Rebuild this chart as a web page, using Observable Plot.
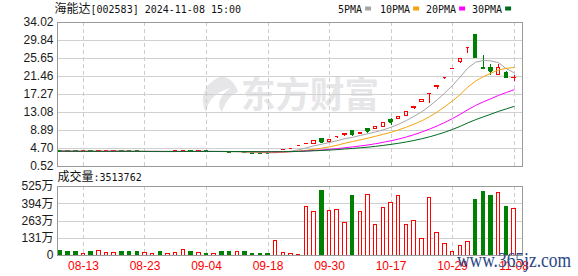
<!DOCTYPE html>
<html>
<head>
<meta charset="utf-8">
<script src="https://cdn.jsdelivr.net/npm/d3@7"></script>
<script src="https://cdn.jsdelivr.net/npm/@observablehq/plot@0.6"></script>
<style>
html,body{margin:0;padding:0;background:#fff;}
#wrap{position:relative;width:578px;height:276px;overflow:hidden;background:#fff;}
#wrap > svg{position:absolute;left:0;top:0;}
</style>
</head>
<body>
<div id="wrap"></div>
<script>
// ---------- data ----------
const title = "海能达[002583] 2024-11-08 15:00";
const volumeTitle = "成交量:3513762";
const dates = [
  "08-08","08-09","08-12","08-13","08-14","08-15","08-16","08-19","08-20","08-21","08-22","08-23","08-26","08-27","08-28","08-29","08-30",
  "09-02","09-03","09-04","09-05","09-06","09-09","09-10","09-11","09-12","09-13","09-18","09-19","09-20","09-23","09-24","09-25","09-26","09-27","09-30",
  "10-08","10-09","10-10","10-11","10-14","10-15","10-16","10-17","10-18","10-21","10-22","10-23","10-24","10-25","10-28","10-29","10-30","10-31",
  "11-01","11-04","11-05","11-06","11-07","11-08"
];
const open = [
  4.12,4.08,4.05,4.02,4.04,4.00,4.05,4.07,4.08,4.04,4.01,3.97,3.99,4.00,3.97,3.98,4.02,
  4.08,4.03,4.04,3.98,3.99,3.94,3.88,3.88,3.69,3.66,3.64,3.64,4.38,4.82,5.30,5.83,5.75,6.98,6.20,
  7.47,7.78,8.80,8.00,9.24,9.30,9.80,11.40,11.60,12.30,14.15,15.55,17.47,19.00,21.14,23.25,24.80,28.14,
  31.00,23.35,23.40,21.80,22.30,21.00
];
const high = [
  4.14,4.10,4.07,4.06,4.05,4.08,4.09,4.10,4.09,4.05,4.02,4.01,4.02,4.01,4.00,4.04,4.20,
  4.12,4.07,4.05,4.01,4.00,3.95,3.93,3.89,3.71,3.68,3.65,3.98,4.38,4.82,5.30,5.83,6.41,7.05,6.79,
  7.47,8.17,8.97,8.45,9.24,9.63,10.59,11.65,11.94,13.13,14.44,15.88,17.47,19.22,21.14,23.25,25.58,28.14,
  31.30,26.30,24.20,24.25,22.60,21.70
];
const low = [
  4.05,4.03,4.00,4.00,3.98,3.99,4.03,4.04,4.02,3.99,3.95,3.96,3.97,3.95,3.95,3.97,4.01,
  4.01,4.01,3.97,3.96,3.93,3.87,3.86,3.66,3.64,3.62,3.60,3.62,4.38,4.82,5.30,5.83,5.64,6.10,6.15,
  7.10,7.55,7.55,7.95,8.15,9.25,9.75,10.00,11.40,12.20,13.80,15.45,15.10,18.40,20.70,23.25,24.40,26.90,
  25.60,23.15,21.70,21.75,21.10,20.30
];
const close = [
  4.08,4.05,4.02,4.04,4.00,4.06,4.07,4.08,4.04,4.01,3.97,3.99,4.00,3.97,3.98,4.02,4.08,
  4.03,4.05,3.98,3.99,3.94,3.88,3.91,3.69,3.66,3.64,3.62,3.98,4.38,4.82,5.30,5.83,6.41,6.17,6.79,
  7.47,8.15,7.92,8.40,8.75,9.63,10.59,10.85,11.94,13.13,14.44,15.88,17.47,19.22,21.14,23.25,25.58,28.14,
  25.80,23.22,22.70,23.40,21.18,21.20
];
// volume in 万 (10,000 shares)
const volume = [
  38,23,23,15,28,38,20,20,23,23,28,20,15,23,15,20,43,
  28,20,15,15,23,23,28,23,15,15,15,112,18,13,5,367,329,489,336,
  344,245,451,329,459,229,359,398,451,229,260,122,436,168,84,23,69,99,
  421,482,451,474,367,351.3762
];
const priceTicks = [0.52, 4.70, 8.89, 13.08, 17.27, 21.46, 25.65, 29.84, 34.02];
const volumeTicks = [0, 131.25, 262.5, 393.75, 525];
const dateTicks = ["08-13","08-23","09-04","09-18","09-30","10-17","10-29","11-08"];
const maNames = ["5PMA","10PMA","20PMA","30PMA"];
const maPeriods = [5, 10, 20, 30];
const maColors = ["#a5a5a5", "#f3a40c", "#ff00ff", "#006b1f"];

// ---------- build ----------
const RED = "#ff0000", GREEN = "#008000";
const rows = dates.map((d, i) => ({
  date: d, open: open[i], high: high[i], low: low[i], close: close[i], vol: volume[i],
  up: close[i] >= open[i],
  volUp: i === 0 ? close[i] >= open[i] : close[i] >= close[i - 1]
}));

const FONT = "'Liberation Sans', Arial, 'Noto Sans CJK SC', sans-serif";
const xScale = {type: "band", domain: dates, range: [56.05, 517.4], paddingInner: 0.42, paddingOuter: 0.21};
const crisp = {shapeRendering: "crispEdges"};

const pricePlot = Plot.plot({
  width: 578, height: 276,
  marginTop: 22, marginBottom: 110, marginLeft: 57, marginRight: 56,
  style: {background: "transparent", fontFamily: FONT, fontSize: "12px", color: "#1a1a1a", overflow: "visible"},
  x: {...xScale, axis: null},
  y: {domain: [0.52, 34.02], axis: null},
  marks: [
    Plot.ruleY(priceTicks.slice(1, -1), {stroke: "#d0d0d0", ...crisp}),
    Plot.ruleX(dateTicks, {stroke: "#cccccc", strokeDasharray: "4,3", ...crisp}),
    Plot.ruleX(rows, {x: "date", y1: "low", y2: "high", stroke: d => d.up ? RED : GREEN, ...crisp}),
    Plot.tickY(rows, {x: "date", y: "close", stroke: d => d.up ? RED : GREEN, insetLeft: 0.5, insetRight: 0.5, ...crisp}),
    Plot.barY(rows, {x: "date", y1: "open", y2: "close", fill: d => d.up ? "#ffffff" : GREEN,
      stroke: d => d.up ? RED : GREEN, insetLeft: 0.5, insetRight: 0.5, ...crisp}),
    ...maPeriods.map((k, j) => Plot.lineY(rows, Plot.windowY({k, anchor: "end"},
      {x: "date", y: "close", stroke: maColors[j], strokeWidth: 1}))),
    Plot.axisY({ticks: priceTicks, tickFormat: d => d.toFixed(2), tickSize: 0, tickPadding: 4, label: null, fontSize: 12}),
    Plot.frame({stroke: "#9a9a9a", ...crisp})
  ]
});

const volumePlot = Plot.plot({
  width: 578, height: 276,
  marginTop: 186, marginBottom: 21, marginLeft: 57, marginRight: 56,
  style: {background: "transparent", fontFamily: FONT, fontSize: "12px", color: "#1a1a1a", overflow: "visible"},
  x: {...xScale, axis: null},
  y: {domain: [0, 525], axis: null},
  marks: [
    Plot.ruleY(volumeTicks.slice(1, -1), {stroke: "#d0d0d0", ...crisp}),
    Plot.ruleX(dateTicks, {stroke: "#cccccc", strokeDasharray: "4,3", ...crisp}),
    Plot.barY(rows, {x: "date", y: "vol", fill: d => d.volUp ? "#ffffff" : GREEN,
      stroke: d => d.volUp ? RED : GREEN, insetLeft: 0.5, insetRight: 0.5, ...crisp}),
    Plot.axisY({ticks: volumeTicks, tickFormat: d => d === 0 ? "0" : Math.round(d) + "万",
      tickSize: 0, tickPadding: 4, label: null, fontSize: 12}),
    Plot.axisX({ticks: dateTicks, tickSize: 0, tickPadding: 6, label: null, color: RED, fontSize: 12}),
    Plot.frame({stroke: "#9a9a9a", ...crisp})
  ]
});

// ---------- decorations: watermark, titles, legend ----------
const NS = "http://www.w3.org/2000/svg";
function svgLayer() {
  const s = document.createElementNS(NS, "svg");
  s.setAttribute("width", 578); s.setAttribute("height", 276);
  s.setAttribute("viewBox", "0 0 578 276");
  return s;
}
function addText(parent, x, y, str, attrs) {
  const t = document.createElementNS(NS, "text");
  t.setAttribute("x", x); t.setAttribute("y", y);
  for (const k in attrs) t.setAttribute(k, attrs[k]);
  t.textContent = str;
  parent.appendChild(t);
  return t;
}
const back = svgLayer();
// 东方财富 watermark
const logo = document.createElementNS(NS, "path");
logo.setAttribute("d", "M222,76 C206,82 198,96 206,112 C208,100 216,92 230,88 C220,96 216,104 222,112 C226,100 232,94 238,92 C236,84 230,78 222,76 Z");
logo.setAttribute("fill", "#e6e6e8");
back.appendChild(logo);
addText(back, 241, 108, "东方财富", {"font-family": "'Noto Sans CJK SC'", "font-size": 36, "font-weight": 700,
  fill: "#e6e6e8", textLength: 138, lengthAdjust: "spacingAndGlyphs"});

const front = svgLayer();
const t = addText(front, 54.5, 12.5, "", {});
const s1 = document.createElementNS(NS, "tspan");
s1.setAttribute("font-family", "'Noto Sans CJK SC'"); s1.setAttribute("font-size", 12);
s1.textContent = title.slice(0, 3);
const s2 = document.createElementNS(NS, "tspan");
s2.setAttribute("font-family", "'DejaVu Sans Mono', monospace"); s2.setAttribute("font-size", 10);
s2.textContent = title.slice(3);
t.appendChild(s1); t.appendChild(s2);
t.setAttribute("fill", "#111");

const v = addText(front, 57.5, 180.5, "", {fill: "#111"});
const v1 = document.createElementNS(NS, "tspan");
v1.setAttribute("font-family", "'Noto Sans CJK SC'"); v1.setAttribute("font-size", 12);
v1.textContent = volumeTitle.slice(0, 3);
const v2 = document.createElementNS(NS, "tspan");
v2.setAttribute("font-family", "'DejaVu Sans Mono', monospace"); v2.setAttribute("font-size", 10);
v2.textContent = volumeTitle.slice(3);
v.appendChild(v1); v.appendChild(v2);

// legend
const legendX = [338, 380, 426, 472];
maNames.forEach((name, j) => {
  addText(front, legendX[j], 12.5, name, {"font-family": "'DejaVu Sans Mono', monospace", "font-size": 10, fill: "#111"});
  const r = document.createElementNS(NS, "rect");
  const w = name.length * 6.02;
  r.setAttribute("x", legendX[j] + w + 3); r.setAttribute("y", 6.5);
  r.setAttribute("width", 6); r.setAttribute("height", 4);
  r.setAttribute("fill", maColors[j]);
  front.appendChild(r);
});
// site watermark
addText(front, 457, 267, "www.365jz.com", {"font-family": "'Liberation Serif', serif", "font-size": 20,
  fill: "#2a4785", textLength: 114, lengthAdjust: "spacingAndGlyphs"});

const wrap = document.getElementById("wrap");
wrap.appendChild(back);
wrap.appendChild(pricePlot);
wrap.appendChild(volumePlot);
wrap.appendChild(front);
</script>
</body>
</html>
